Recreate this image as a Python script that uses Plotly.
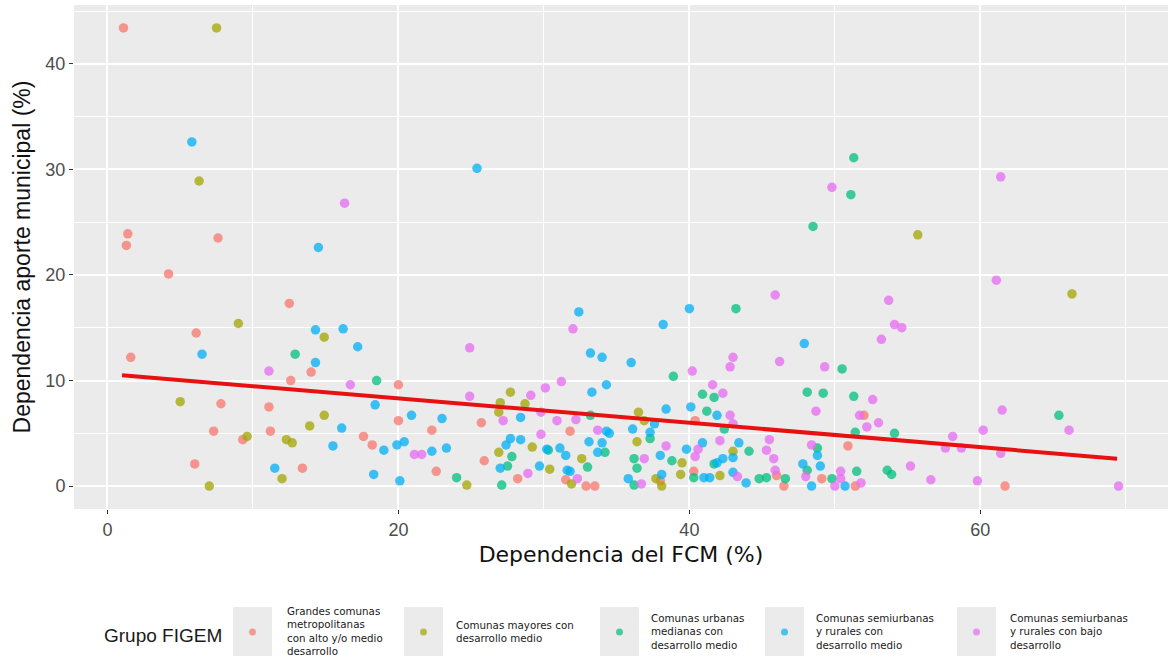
import plotly.graph_objects as go

# Grupo FIGEM categories
groups = [
    "Grandes comunas<br>metropolitanas<br>con alto y/o medio<br>desarrollo",
    "Comunas mayores con<br>desarrollo medio",
    "Comunas urbanas<br>medianas con<br>desarrollo medio",
    "Comunas semiurbanas<br>y rurales con<br>desarrollo medio",
    "Comunas semiurbanas<br>y rurales con bajo<br>desarrollo",
]
colors = ["#F8766D", "#A3A500", "#00BF7D", "#00B0F6", "#E76BF3"]

g1_x = [1.1, 1.4, 1.3, 4.2, 7.6, 1.6, 6.1, 12.5, 14.0, 12.6, 20.0, 7.8, 11.1, 20.0, 22.3,
        7.3, 11.2, 9.3, 17.6, 18.2, 6.0, 13.4, 22.6, 25.7, 31.8, 25.9, 28.2, 31.5, 32.9, 33.5,
        38.0, 40.3, 40.4, 46.0, 46.5, 50.9, 49.1, 51.4, 52.0, 61.7]
g1_y = [43.4, 23.9, 22.8, 20.1, 23.5, 12.2, 14.5, 17.3, 10.8, 10.0, 9.6, 7.8, 7.5, 6.2, 5.3,
        5.2, 5.2, 4.4, 4.7, 3.9, 2.1, 1.7, 1.4, 6.0, 5.2, 2.4, 0.7, 0.6, 0.0, 0.0,
        0.5, 1.4, 6.2, 1.0, 0.0, 3.8, 0.7, 0.0, 6.7, 0.0]

g2_x = [7.5, 6.3, 9.0, 14.9, 5.0, 14.9, 13.9, 9.6, 12.3, 12.7, 12.0, 7.0, 27.7, 27.0, 26.9,
        28.7, 36.5, 36.9, 29.2, 36.4, 43.0, 26.9, 39.5, 32.6, 30.4, 31.9, 24.7, 37.7, 38.1, 39.4,
        42.1, 55.7, 66.3]
g2_y = [43.4, 28.9, 15.4, 14.1, 8.0, 6.7, 5.7, 4.7, 4.4, 4.1, 0.7, 0.0, 8.9, 7.9, 7.0,
        7.8, 7.0, 6.2, 3.7, 4.2, 3.3, 3.2, 2.2, 2.6, 1.6, 0.2, 0.1, 0.7, 0.0, 1.1,
        1.0, 23.8, 18.2]

g3_x = [51.3, 51.1, 48.5, 12.9, 18.5, 43.2, 38.9, 40.9, 41.7, 48.1, 33.2, 41.2, 42.4, 37.3, 44.1,
        30.3, 34.2, 36.2, 27.8, 38.8, 41.7, 33.0, 27.5, 36.4, 24.0, 27.1, 36.2, 40.3, 44.8, 45.3,
        46.6, 48.1, 50.5, 49.2, 51.3, 65.4, 51.4, 54.1, 48.8, 49.8, 51.5, 53.6, 53.9]
g3_y = [31.1, 27.6, 24.6, 12.5, 10.0, 16.8, 10.4, 8.7, 8.4, 8.9, 6.7, 7.1, 5.4, 4.5, 3.3,
        3.4, 3.2, 2.6, 2.8, 2.4, 2.1, 1.8, 1.9, 1.7, 0.8, 0.1, 0.1, 0.8, 0.7, 0.8,
        0.7, 1.5, 11.1, 8.8, 8.5, 6.7, 5.1, 5.0, 3.6, 0.7, 1.4, 1.5, 1.1]

g4_x = [5.8, 25.4, 14.5, 6.5, 14.3, 16.2, 17.2, 14.3, 18.4, 20.9, 23.0, 16.1, 15.5, 19.0, 19.9,
        20.4, 22.3, 23.3, 11.5, 18.3, 20.1, 40.0, 32.4, 38.2, 33.2, 34.0, 36.0, 47.9, 34.3, 33.3,
        28.4, 38.4, 40.1, 41.9, 37.6, 36.1, 34.3, 34.5, 37.3, 43.4, 40.9, 27.7, 28.4, 27.4, 30.2,
        33.1, 34.0, 39.8, 31.1, 31.5, 33.7, 38.0, 42.3, 43.0, 41.9, 27.0, 29.7, 31.6, 31.8, 35.8,
        38.1, 41.0, 41.4, 43.0, 43.9, 47.8, 48.8, 49.0, 48.4, 50.7]
g4_y = [32.6, 30.1, 22.6, 12.5, 14.8, 14.9, 13.2, 11.7, 7.7, 6.7, 6.4, 5.5, 3.8, 3.4, 3.9,
        4.2, 3.3, 3.6, 1.7, 1.1, 0.5, 16.8, 16.5, 15.3, 12.6, 12.2, 11.7, 13.5, 9.6, 8.9,
        6.5, 7.3, 7.5, 6.7, 5.9, 5.4, 5.2, 5.0, 5.1, 4.1, 4.1, 4.5, 4.4, 3.9, 3.5,
        4.2, 4.1, 3.5, 3.6, 2.9, 3.2, 2.9, 2.6, 2.7, 2.2, 1.7, 1.9, 1.5, 1.4, 0.7,
        1.1, 0.8, 0.8, 1.3, 0.3, 2.1, 2.9, 1.9, 0.0, 0.0]

g5_x = [16.3, 61.4, 49.8, 61.1, 45.9, 32.0, 24.9, 43.0, 42.8, 46.2, 40.2, 31.2, 30.1, 29.1, 24.9,
        41.6, 42.3, 27.2, 29.8, 30.9, 32.2, 42.8, 43.0, 33.7, 29.8, 45.5, 42.1, 38.4, 40.6, 45.3,
        36.9, 40.4, 45.8, 28.9, 45.9, 32.3, 36.7, 43.3, 48.0, 11.1, 16.7, 21.1, 21.6, 53.7, 54.1,
        54.6, 53.2, 49.3, 52.6, 48.7, 51.7, 61.5, 53.0, 52.2, 66.1, 60.2, 58.1, 57.6, 58.7, 61.4,
        48.4, 50.4, 50.4, 50.0, 51.8, 55.2, 56.6, 59.8, 69.5]
g5_y = [26.8, 29.3, 28.3, 19.5, 18.1, 14.9, 13.1, 12.2, 11.3, 11.8, 10.9, 9.9, 9.3, 8.6, 8.5,
        9.6, 8.8, 6.2, 7.0, 6.2, 6.3, 6.7, 5.9, 5.3, 4.9, 4.4, 4.3, 3.8, 3.5, 3.4,
        2.6, 2.8, 2.6, 1.2, 1.5, 0.7, 0.2, 0.9, 0.9, 10.9, 9.6, 3.0, 3.0, 17.6, 15.3,
        15.0, 13.9, 11.3, 8.2, 7.1, 6.7, 7.2, 6.0, 5.6, 5.3, 5.3, 4.7, 3.6, 3.6, 3.1,
        3.9, 1.4, 0.7, 0.0, 0.3, 1.9, 0.6, 0.5, 0.0]

# linear fit endpoints
fit_x = [1.0, 69.4]
fit_y = [10.5, 2.6]

series = [(g1_x, g1_y), (g2_x, g2_y), (g3_x, g3_y), (g4_x, g4_y), (g5_x, g5_y)]

W, H = 1168, 657
L, R, T, B = 74, 0, 5, 148
PW, PH = W - L - R, H - T - B


def px_x(p):
    # pixel column -> paper x
    return (p - L) / PW


def px_y(p):
    # pixel row -> paper y
    return (H - B - p) / PH


fig = go.Figure()
for name, col, (xs, ys) in zip(groups, colors, series):
    fig.add_trace(go.Scatter(
        x=xs, y=ys, mode="markers", name=name.replace("<br>", " "), showlegend=False,
        marker=dict(color=col, size=9.5, opacity=0.75, line=dict(width=0)),
    ))

fig.add_trace(go.Scatter(
    x=fit_x, y=fit_y, mode="lines", showlegend=False,
    line=dict(color="#E81010", width=4),
))

# ggplot-style legend drawn by hand (grey key boxes)
key_left = [233, 404, 600, 765, 957]
text_left = [285, 454, 649, 814, 1008]
shapes, annots = [], []
for kl, tl, name, col in zip(key_left, text_left, groups, colors):
    shapes.append(dict(type="rect", xref="paper", yref="paper",
                       x0=px_x(kl), x1=px_x(kl + 39), y0=px_y(656), y1=px_y(607),
                       fillcolor="#EBEBEB", line=dict(width=0), layer="below"))
    cx, cy = kl + 19.5, 632
    shapes.append(dict(type="circle", xref="paper", yref="paper",
                       x0=px_x(cx - 3.5), x1=px_x(cx + 3.5), y0=px_y(cy + 3.5), y1=px_y(cy - 3.5),
                       fillcolor=col, opacity=0.7, line=dict(width=0)))
    annots.append(dict(text=name, xref="paper", yref="paper", x=px_x(tl), y=px_y(631),
                       xanchor="left", yanchor="middle", align="left", showarrow=False,
                       font=dict(family="DejaVu Sans", size=10.3, color="#1A1A1A")))
annots.append(dict(text="Grupo FIGEM", xref="paper", yref="paper", x=px_x(102), y=px_y(635),
                   xanchor="left", yanchor="middle", showarrow=False,
                   font=dict(size=19, color="#1A1A1A")))

fig.update_layout(
    width=W, height=H,
    margin=dict(l=L, r=R, t=T, b=B, autoexpand=False),
    paper_bgcolor="white",
    plot_bgcolor="#EBEBEB",
    font=dict(family="Liberation Sans, Arial, sans-serif", color="#222222"),
    shapes=shapes, annotations=annots,
    showlegend=False,
)
fig.update_xaxes(
    range=[-2.3, 72.9], tickvals=[0, 20, 40, 60],
    showgrid=True, gridcolor="white", gridwidth=1.8,
    minor=dict(tickvals=[10, 30, 50, 70], showgrid=True, gridcolor="white", gridwidth=0.9),
    zeroline=False, ticks="outside", ticklen=4, tickcolor="#333333",
    tickfont=dict(size=18, color="#4D4D4D"), automargin=False,
    title=dict(text="Dependencia del FCM (%)",
               font=dict(family="DejaVu Sans", size=22, color="#111111"), standoff=8),
)
fig.update_yaxes(
    range=[-2.17, 45.57], tickvals=[0, 10, 20, 30, 40],
    showgrid=True, gridcolor="white", gridwidth=1.8,
    minor=dict(tickvals=[5, 15, 25, 35, 45], showgrid=True, gridcolor="white", gridwidth=0.9),
    zeroline=False, ticks="outside", ticklen=4, tickcolor="#333333",
    tickfont=dict(size=18, color="#4D4D4D"), automargin=False,
    title=dict(text="Dependencia aporte municipal (%)",
               font=dict(size=23, color="#111111"), standoff=8),
)

# drop the default page margin so the figure sits at the window corner
fig.write_html("out.html", config={"displayModeBar": False},
               post_script="document.body.style.margin='0px';")
